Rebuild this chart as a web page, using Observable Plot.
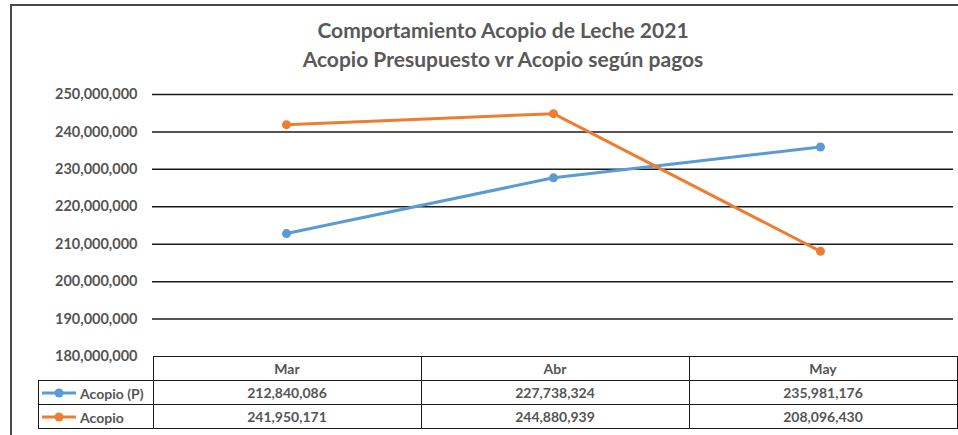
<!DOCTYPE html>
<html>
<head>
<meta charset="utf-8">
<script src="https://cdn.jsdelivr.net/npm/d3@7"></script>
<script src="https://cdn.jsdelivr.net/npm/@observablehq/plot@0.6"></script>
<style>
  html, body { margin: 0; padding: 0; background: #fff; }
  #wrap { position: relative; width: 958px; height: 435px; overflow: hidden; font-family: Lato, "Open Sans", sans-serif; }
  #frame { position: absolute; left: 10px; top: 4px; width: 1100px; height: 600px; border: 2px solid #4a4a4a; box-sizing: border-box; }
  #title { position: absolute; left: 10px; width: 986px; top: 15px; text-align: center; font-weight: bold; font-size: 21px; line-height: 29px; color: #595959; }
  #chart { position: absolute; left: 0; top: 80px; }
  #tbl { position: absolute; left: 38px; top: 356px; border-collapse: collapse; font-weight: bold; font-size: 14px; color: #555; }
  #tbl td { border: 1.5px solid #1a1a1a; height: 23px; padding: 0; text-align: center; }
  #tbl td.blank { border-top: none; border-left: none; }
  #tbl td.leg { text-align: left; white-space: nowrap; }
  #tbl td.leg svg { vertical-align: middle; margin-left: 2px; margin-right: 3px; }
  #tbl td.leg span { vertical-align: middle; }
</style>
</head>
<body>
<div id="wrap">
  <div id="frame"></div>
  <div id="title">Comportamiento Acopio de Leche 2021<br>Acopio Presupuesto vr Acopio según pagos</div>
  <div id="chart"></div>
  <table id="tbl"></table>
</div>
<script>
const months = ["Mar", "Abr", "May"];
const seriesNames = ["Acopio (P)", "Acopio"];
const acopioP = [212840086, 227738324, 235981176];
const acopio = [241950171, 244880939, 208096430];
const yTicks = [180000000, 190000000, 200000000, 210000000, 220000000, 230000000, 240000000, 250000000];
const colors = ["#5B9BD5", "#ED7D31"];

const seriesValues = [acopioP, acopio];
const rows = seriesNames.flatMap((s, i) => months.map((m, j) => ({series: s, month: m, value: seriesValues[i][j]})));
const fmt = d3.format(",");

const plot = Plot.plot({
  width: 958,
  height: 300,
  marginTop: 14,
  marginBottom: 24,
  marginLeft: 152,
  marginRight: 5,
  style: {fontFamily: "Lato, 'Open Sans', sans-serif", fontSize: "14.5px", fontWeight: "bold", color: "#555", background: "transparent"},
  x: {type: "point", domain: months, padding: 0.5, axis: null},
  y: {domain: [180000000, 250000000], ticks: yTicks, tickFormat: fmt, tickSize: 0, tickPadding: 15, label: null},
  color: {domain: seriesNames, range: colors},
  marks: [
    Plot.ruleY(yTicks.slice(1), {stroke: "#1a1a1a", strokeWidth: 1.5}),
    Plot.line(rows, {x: "month", y: "value", z: "series", stroke: "series", strokeWidth: 3}),
    Plot.dot(rows, {x: "month", y: "value", fill: "series", r: 4.5})
  ]
});
document.getElementById("chart").appendChild(plot);

// data table below the chart, columns aligned with the x scale
const xs = plot.scale("x");
const step = (xs.range[1] - xs.range[0]) / (months.length - 1 + 2 * xs.padding);
const tbl = document.getElementById("tbl");
const legendWidth = 152 - 38;
let html = `<tr><td class="blank" style="width:${legendWidth}px"></td>` +
  months.map(m => `<td style="width:${step}px">${m}</td>`).join("") + `</tr>`;
seriesNames.forEach((s, i) => {
  html += `<tr><td class="leg"><svg width="36" height="12"><line x1="1" x2="35" y1="6" y2="6" stroke="${colors[i]}" stroke-width="3"/><circle cx="18" cy="6" r="4.5" fill="${colors[i]}"/></svg><span>${s}</span></td>` +
    seriesValues[i].map(v => `<td>${fmt(v)}</td>`).join("") + `</tr>`;
});
tbl.innerHTML = html;
</script>
</body>
</html>
